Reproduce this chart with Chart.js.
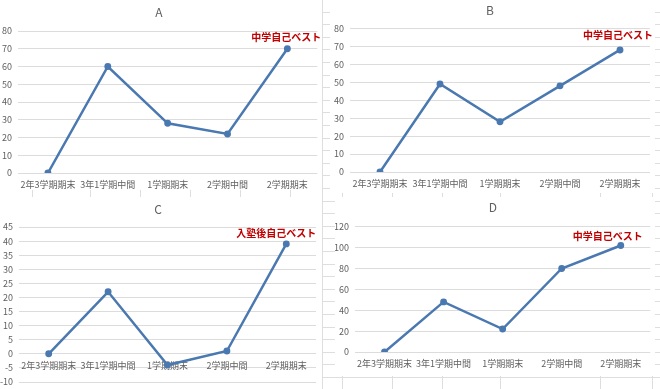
<!DOCTYPE html>
<html>
<head>
<meta charset="utf-8">
<script src="https://cdn.jsdelivr.net/npm/chart.js@4"></script>
<style>
  body {
    margin: 0;
    width: 660px;
    height: 389px;
    overflow: hidden;
    position: relative;
    background-color: #fff;
    background-image: repeating-linear-gradient(to bottom, transparent 0, transparent 11.6px, #dedede 11.6px, #dedede 12.6px);
  }
  .vl { position: absolute; top: 0; width: 1px; height: 389px; background: #dedede; }
  .box { position: absolute; background: #fff; }
  .box canvas { display: block; }
</style>
</head>
<body>
<div class="vl" style="left:32px"></div>
<div class="vl" style="left:90px"></div>
<div class="vl" style="left:140px"></div>
<div class="vl" style="left:190px"></div>
<div class="vl" style="left:240px"></div>
<div class="vl" style="left:290px"></div>
<div class="vl" style="left:322px"></div>
<div class="vl" style="left:342px"></div>
<div class="vl" style="left:392px"></div>
<div class="vl" style="left:442px"></div>
<div class="vl" style="left:500px"></div>
<div class="vl" style="left:600px"></div>
<div class="vl" style="left:652px"></div>

<div class="box" style="left:0;top:0;width:322px;height:190px"><canvas id="chartA" width="322" height="190"></canvas></div>
<div class="box" style="left:330px;top:0;width:325px;height:193px"><canvas id="chartB" width="325" height="193"></canvas></div>
<div class="box" style="left:0;top:197px;width:322px;height:192px"><canvas id="chartC" width="322" height="192"></canvas></div>
<div class="box" style="left:335px;top:197px;width:320px;height:179px"><canvas id="chartD" width="320" height="179"></canvas></div>

<script>
const categories = ['2年3学期期末', '3年1学期中間', '1学期期末', '2学期中間', '2学期期末'];

const scoresA = [0, 60, 28, 22, 70];
const scoresB = [0, 49, 28, 48, 68];
const scoresC = [0, 22, -4, 1, 39];
const scoresD = [0, 48, 22, 80, 102];

const noteJunior = '中学自己ベスト';
const noteJuku = '入塾後自己ベスト';

const lineColor = '#4a78b0';
const textColor = '#606060';
const gridColor = '#dcdcdc';
const jpFont = '"Noto Sans CJK JP", "Noto Sans", sans-serif';

// red caption above the last point
const notePlugin = {
    id: 'note',
    afterDatasetsDraw(chart, args, opts) {
        if (!opts.text) return;
        const meta = chart.getDatasetMeta(0);
        const last = meta.data[meta.data.length - 1];
        const ctx = chart.ctx;
        ctx.save();
        ctx.font = 'bold 10px ' + jpFont;
        ctx.fillStyle = '#c00000';
        ctx.textAlign = 'center';
        ctx.textBaseline = 'middle';
        ctx.fillText(opts.text, last.x + opts.dx, last.y - opts.dy);
        ctx.restore();
    }
};

function makeChart(id, title, values, yMin, yMax, step, note, g) {
    const xScale = {
        offset: true,
        grid: { display: false, drawTicks: false },
        border: { display: false },
        ticks: {
            autoSkip: false,
            maxRotation: 0,
            padding: 6,
            color: textColor,
            font: { family: jpFont, size: 9 }
        },
        afterFit: scale => { if (g.xHeight) scale.height = g.xHeight; }
    };
    // C: category labels sit on the zero line
    if (g.axisAtZero) xScale.position = { y: 0 };

    return new Chart(document.getElementById(id), {
        type: 'line',
        data: {
            labels: categories,
            datasets: [{
                data: values,
                borderColor: lineColor,
                backgroundColor: lineColor,
                borderWidth: 2.5,
                pointRadius: 2.2,
                pointHoverRadius: 2.2,
                tension: 0
            }]
        },
        options: {
            responsive: false,
            animation: false,
            layout: { padding: { right: g.right } },
            plugins: {
                legend: { display: false },
                tooltip: { enabled: false },
                title: {
                    display: true,
                    text: title,
                    color: textColor,
                    font: { family: jpFont, size: 12, weight: 'normal' },
                    padding: { top: g.titleTop, bottom: g.titleBottom }
                },
                note: { text: note.text, dx: note.dx, dy: note.dy }
            },
            scales: {
                x: xScale,
                y: {
                    min: yMin,
                    max: yMax,
                    grid: { color: gridColor, drawTicks: false, lineWidth: 1 },
                    border: { display: false },
                    ticks: {
                        stepSize: step,
                        padding: 6,
                        color: textColor,
                        font: { family: jpFont, size: 9 }
                    },
                    afterFit: scale => {
                        scale.width = g.yWidth;
                        if (g.padBottom) scale.paddingBottom = g.padBottom;
                    }
                }
            }
        },
        plugins: [notePlugin]
    });
}

makeChart('chartA', 'A', scoresA, 0, 80, 10,
    { text: noteJunior, dx: -1, dy: 12 },
    { yWidth: 18, xHeight: 17, right: 4, titleTop: 5, titleBottom: 11.6 });

makeChart('chartB', 'B', scoresB, 0, 80, 10,
    { text: noteJunior, dx: -2, dy: 15 },
    { yWidth: 20, xHeight: 21, right: 5, titleTop: 3, titleBottom: 11 });

makeChart('chartC', 'C', scoresC, -10, 45, 5,
    { text: noteJuku, dx: -10, dy: 11 },
    { yWidth: 19, axisAtZero: true, padBottom: 7, right: 6, titleTop: 5, titleBottom: 10.6 });

makeChart('chartD', 'D', scoresD, 0, 120, 20,
    { text: noteJunior, dx: -13, dy: 9 },
    { yWidth: 20, xHeight: 24, right: 4, titleTop: 3, titleBottom: 12.3 });
</script>
</body>
</html>
